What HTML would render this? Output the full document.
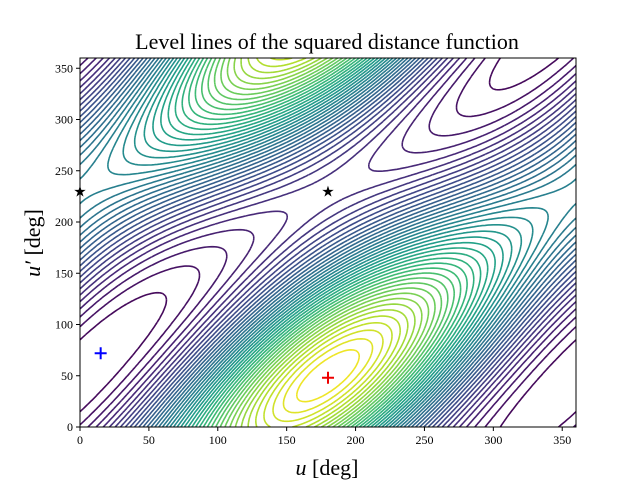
<!DOCTYPE html>
<html><head><meta charset="utf-8"><style>
body{margin:0;background:#fff;width:640px;height:480px;overflow:hidden}
svg text{font-family:"Liberation Serif",serif;fill:#000}
</style></head><body>
<svg id="chart" width="640" height="480" xmlns="http://www.w3.org/2000/svg">
<text x="327" y="49" font-size="22" text-anchor="middle">Level lines of the squared distance function</text>
<defs><clipPath id="clip"><rect x="80" y="58" width="496" height="369"/></clipPath></defs>
<g id="contours" clip-path="url(#clip)"></g>
<g id="markers"></g>
<rect x="80" y="58" width="496" height="369" fill="none" stroke="#000" stroke-width="1"/>
<g id="axes"></g>
<text x="327" y="475" font-size="22" text-anchor="middle"><tspan font-style="italic">u</tspan> [deg]</text>
<text transform="translate(40,243) rotate(-90)" font-size="22" text-anchor="middle"><tspan font-style="italic">u′</tspan> [deg]</text>
</svg>
<script>
// model coefficients: f = A cos(u-v-phase) + B cos(u-uMax) + C cos(v-vMax)
const coefA = [2.0, 130];
const coefB = [1.0, 180];
const coefC = [0.4, 50];
const nLevels = 44;
const xTicks = [0,50,100,150,200,250,300,350];
const yTicks = [0,50,100,150,200,250,300,350];
const maxPoint = [180, 48];
const minPoint = [15, 72];
const saddleU = [0, 180];
const saddleV = [230, 230];

const NS="http://www.w3.org/2000/svg";
const X0=80,X1=576,Y0=427,Y1=58;
const sx=u=>X0+u/360*(X1-X0);
const sy=v=>Y0-v/360*(Y0-Y1);
const R=Math.PI/180;
function f(u,v){return coefA[0]*Math.cos((u-v-coefA[1])*R)+coefB[0]*Math.cos((u-coefB[1])*R)+coefC[0]*Math.cos((v-coefC[1])*R);}
const vir=[[68,1,84],[72,40,120],[62,74,137],[49,104,142],[38,130,142],[31,158,137],[53,183,121],[109,205,89],[180,222,44],[253,231,37]];
function cmap(t){t=Math.max(0,Math.min(1,t))*(vir.length-1);const i=Math.min(vir.length-2,Math.floor(t)),r=t-i;const c=vir[i].map((a,k)=>Math.round(a+(vir[i+1][k]-a)*r));return `rgb(${c})`;}
const N=180,step=360/N,G=[];
let mn=1e9,mx=-1e9;
const F0=f(minPoint[0],minPoint[1])-0.2;
for(let i=0;i<=N;i++){G[i]=[];for(let j=0;j<=N;j++){const h=f(i*step,j*step)-F0;const z=Math.pow(Math.max(h,0),1.35);G[i][j]=z;mn=Math.min(mn,z);mx=Math.max(mx,z);}}
const cg=document.getElementById('contours');
for(let k=1;k<nLevels;k++){
  const L=mn+(mx-mn)*k/nLevels;let d="";
  for(let i=0;i<N;i++)for(let j=0;j<N;j++){
    const u0=i*step,v0=j*step,u1=u0+step,v1=v0+step;
    const a=G[i][j],b=G[i+1][j],c=G[i+1][j+1],e=G[i][j+1];
    const pts=[];
    const ed=(p,q,pu,pv,qu,qv)=>{if((p<L)!==(q<L)){const t=(L-p)/(q-p);pts.push([pu+(qu-pu)*t,pv+(qv-pv)*t]);}};
    ed(a,b,u0,v0,u1,v0);ed(b,c,u1,v0,u1,v1);ed(c,e,u1,v1,u0,v1);ed(e,a,u0,v1,u0,v0);
    for(let p=0;p+1<pts.length;p+=2)d+=`M${sx(pts[p][0]).toFixed(1)},${sy(pts[p][1]).toFixed(1)}L${sx(pts[p+1][0]).toFixed(1)},${sy(pts[p+1][1]).toFixed(1)}`;
  }
  const path=document.createElementNS(NS,'path');
  
  
  path.setAttribute('d',d);path.setAttribute('fill','none');
  path.setAttribute('stroke',cmap(k/nLevels));path.setAttribute('stroke-width','1.6');
  cg.appendChild(path);
}
const ax=document.getElementById('axes');
function add(tag,attrs,text){const el=document.createElementNS(NS,tag);for(const k in attrs)el.setAttribute(k,attrs[k]);if(text!==undefined)el.textContent=text;ax.appendChild(el);return el;}
xTicks.forEach(t=>{
  const l=add('line',{x1:sx(t),x2:sx(t),y1:Y0,y2:Y0+4,stroke:'#000'});
  
  
  const tx=add('text',{x:sx(t),y:Y0+17,'font-size':12,'text-anchor':'middle'},t);
  
  
});
yTicks.forEach(t=>{
  const l=add('line',{x1:X0-4,x2:X0,y1:sy(t),y2:sy(t),stroke:'#000'});
  
  
  const tx=add('text',{x:X0-7,y:sy(t)+4,'font-size':12,'text-anchor':'end'},t);
  
  
});
const mg=document.getElementById('markers');
function plus(p,col,name){const el=document.createElementNS(NS,'path');
  
  
  const x=sx(p[0]),y=sy(p[1]);el.setAttribute('d',`M${x-6},${y}H${x+6}M${x},${y-6}V${y+6}`);el.setAttribute('stroke',col);el.setAttribute('stroke-width','2');mg.appendChild(el);}
plus(maxPoint,'#e00','max-marker');plus(minPoint,'#00f','min-marker');
saddleU.forEach((u,i)=>{const t=document.createElementNS(NS,'text');
  
  
  t.setAttribute('x',sx(u));t.setAttribute('y',sy(saddleV[i])+5);t.setAttribute('text-anchor','middle');t.setAttribute('font-size','15');t.style.fontFamily='"DejaVu Sans",sans-serif';t.textContent='★';mg.appendChild(t);});
</script>
</body></html>
